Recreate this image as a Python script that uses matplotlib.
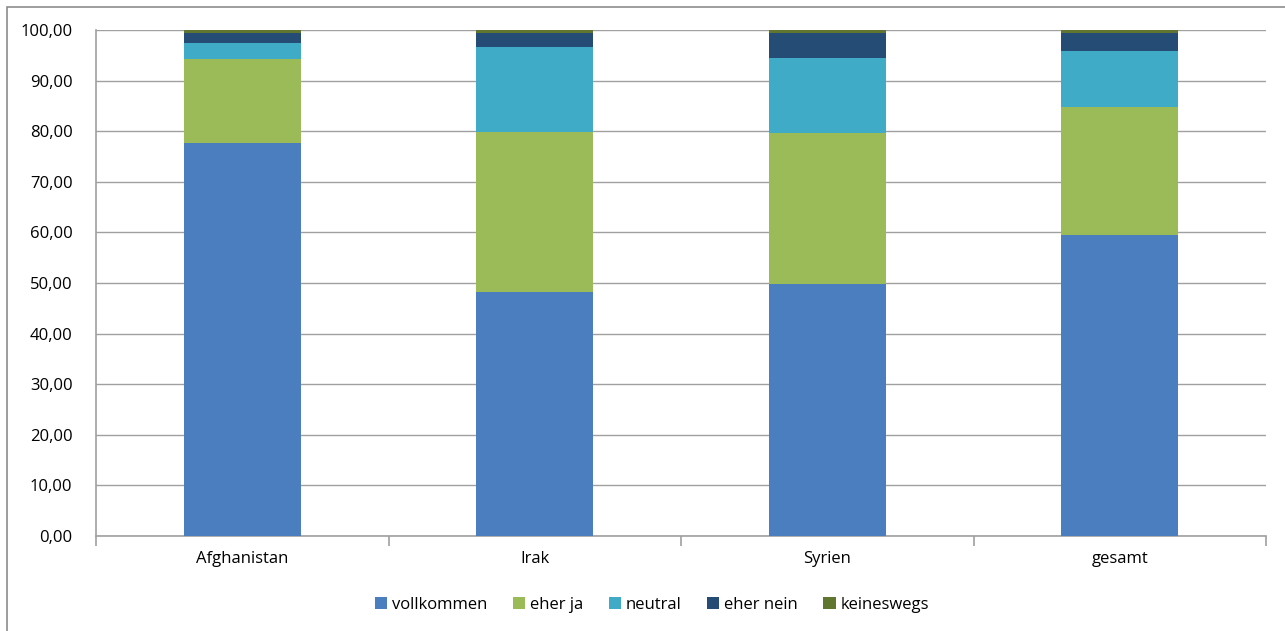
import matplotlib
matplotlib.use("Agg")
import matplotlib.pyplot as plt
from matplotlib.patches import Rectangle
import numpy as np

categories = ["Afghanistan", "Irak", "Syrien", "gesamt"]
series_names = ["vollkommen", "eher ja", "neutral", "eher nein", "keineswegs"]
vollkommen = [77.7, 48.2, 49.8, 59.5]
eher_ja = [16.6, 31.6, 29.8, 25.3]
neutral = [3.2, 16.8, 14.8, 11.1]
eher_nein = [1.9, 2.9, 5.1, 3.6]
keineswegs = [0.6, 0.5, 0.5, 0.5]
colors = ["#4a7ebf", "#9bbb59", "#3fabc6", "#254c74", "#5f7530"]
yticks = np.arange(0, 101, 10)

plt.rcParams['font.family'] = ['Open Sans', 'DejaVu Sans']
FS = 12

W, H = 1285, 631
fig = plt.figure(figsize=(W / 100, H / 100), dpi=100)
ax = fig.add_axes([96 / W, 1 - 536 / H, (1266 - 96) / W, (536 - 30) / H])

# outer chart frame
fig.patches.append(Rectangle((7 / W, -0.1), 1.2, 1 - 7 / H + 0.1, transform=fig.transFigure,
                             fill=False, edgecolor="#8c8c8c", linewidth=1.2))

data = [vollkommen, eher_ja, neutral, eher_nein, keineswegs]
x = np.arange(len(categories))
bottom = np.zeros(len(categories))
for name, vals, c in zip(series_names, data, colors):
    ax.bar(x, vals, width=0.4, bottom=bottom, color=c, label=name, zorder=3)
    bottom += np.array(vals)

ax.set_xlim(-0.5, len(categories) - 0.5)
ax.set_ylim(0, 100)
ax.set_yticks(yticks)
ax.set_yticklabels([f"{v:.2f}".replace(".", ",") for v in yticks], fontsize=FS)
ax.yaxis.grid(True, color="#a0a0a0", linewidth=1.0, zorder=0)
ax.tick_params(axis="y", length=0, pad=17)
ax.set_xticks(x)
ax.set_xticklabels(categories, fontsize=FS)
ax.tick_params(axis="x", length=0, pad=11)
ax.set_xticks(np.arange(-0.5, len(categories), 1), minor=True)
ax.tick_params(axis="x", which="minor", length=7, color="#a0a0a0", width=1.2)

for s in ["top", "right"]:
    ax.spines[s].set_visible(False)
for s in ["left", "bottom"]:
    ax.spines[s].set_color("#a0a0a0")
    ax.spines[s].set_linewidth(1.2)

leg = fig.legend(loc="center", bbox_to_anchor=(652 / W, 1 - 605 / H), ncol=5, frameon=False,
                 fontsize=FS, handlelength=0.75, handleheight=0.75, handletextpad=0.3,
                 columnspacing=1.5)

fig.savefig("out.png", dpi=100)
